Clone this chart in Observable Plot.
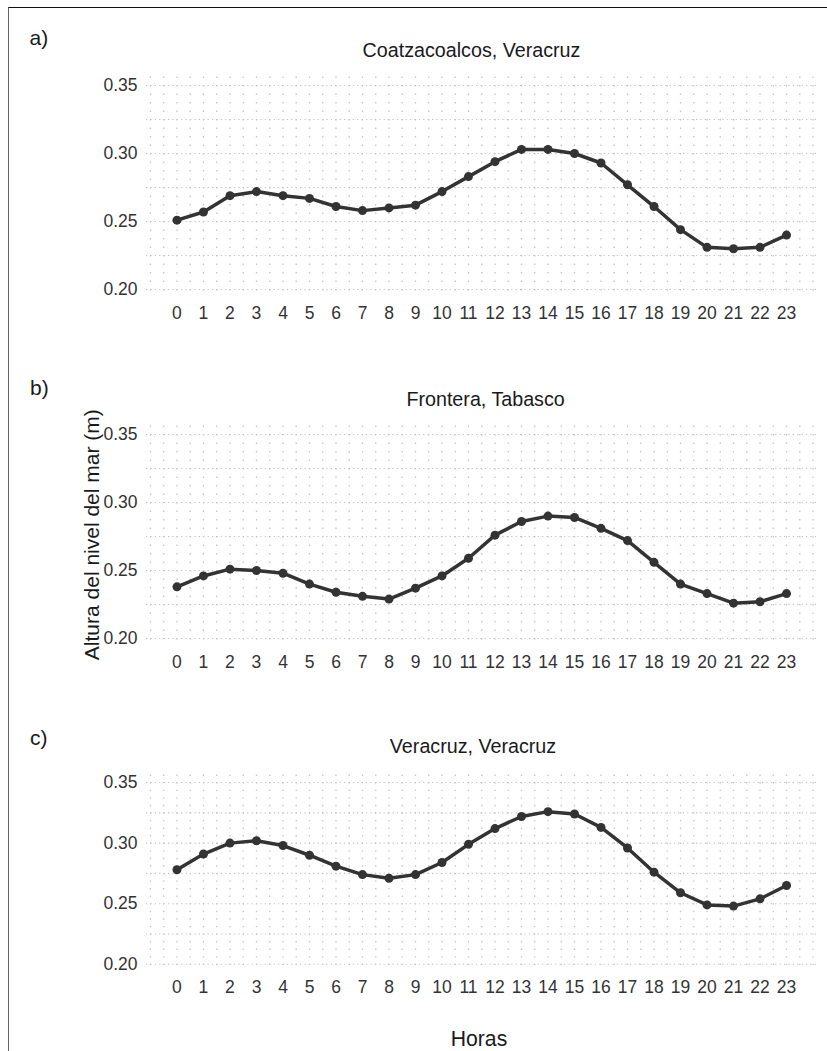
<!DOCTYPE html>
<html>
<head>
<meta charset="utf-8">
<script src="https://cdn.jsdelivr.net/npm/d3@7"></script>
<script src="https://cdn.jsdelivr.net/npm/@observablehq/plot@0.6"></script>
<style>
  body { margin: 0; background: #fff; }
  #fig { position: relative; width: 827px; height: 1051px; overflow: hidden; background: #fff;
         font-family: "Liberation Sans", Arial, Helvetica, sans-serif; }
  #frame { position: absolute; left: 8px; top: 7px; width: 1000px; height: 1200px;
           border-left: 1px solid #666; border-top: 1px solid #111; }
  .panel { position: absolute; left: 0; }
  #labels { position: absolute; left: 0; top: 0; pointer-events: none; }
</style>
</head>
<body>
<div id="fig">
  <div id="frame"></div>
</div>
<script>
// Hours of the day (x axis categories and tick labels)
const hours = [0,1,2,3,4,5,6,7,8,9,10,11,12,13,14,15,16,17,18,19,20,21,22,23];

// Mean hourly sea level (m) at each tide station
const coatzacoalcos = [0.251,0.257,0.269,0.272,0.269,0.267,0.261,0.258,0.260,0.262,0.272,0.283,0.294,0.303,0.303,0.300,0.293,0.277,0.261,0.244,0.231,0.230,0.231,0.240];
const frontera      = [0.238,0.246,0.251,0.250,0.248,0.240,0.234,0.231,0.229,0.237,0.246,0.259,0.276,0.286,0.290,0.289,0.281,0.272,0.256,0.240,0.233,0.226,0.227,0.233];
const veracruz      = [0.278,0.291,0.300,0.302,0.298,0.290,0.281,0.274,0.271,0.274,0.284,0.299,0.312,0.322,0.326,0.324,0.313,0.296,0.276,0.259,0.249,0.248,0.254,0.265];

// Panel titles, tags and y-axis ticks
const stations = ["Coatzacoalcos, Veracruz", "Frontera, Tabasco", "Veracruz, Veracruz"];
const tags = ["a)", "b)", "c)"];
const yTicks = [0.20, 0.25, 0.30, 0.35];

const fig = document.getElementById("fig");
const FONT = '"Liberation Sans", Arial, Helvetica, sans-serif';
const W = 827, ML = 146, MR = 10.5, MT = 6.5, MB = 30;
const yDomain = [0.19375, 0.35625];
const xDomain = [-1.15, 24.15];

function panel(values, top, innerH) {
  const rows = hours.map((h, i) => ({hour: h, value: values[i]}));
  const pxPerUnit = innerH / (yDomain[1] - yDomain[0]);
  const period = 0.00625 * pxPerUnit;
  const chart = Plot.plot({
    width: W,
    height: MT + innerH + MB,
    marginLeft: ML, marginRight: MR, marginTop: MT, marginBottom: MB,
    style: {fontFamily: FONT, fontSize: "17.5px", color: "#333", background: "transparent", overflow: "visible"},
    x: {domain: xDomain, label: null},
    y: {domain: yDomain, label: null},
    marks: [
      // dotted vertical grid every half hour
      Plot.ruleX(d3.range(-1, 24.01, 0.5), {stroke: "#c4c4c4", strokeWidth: 1.3,
        strokeDasharray: `1.4,${(period - 1.4).toFixed(3)}`}),
      // dotted horizontal grid every 0.025 m
      Plot.ruleY(d3.range(0.2, 0.3501, 0.025), {stroke: "#c4c4c4", strokeWidth: 1.1,
        strokeDasharray: "1.2,3.2"}),
      Plot.axisX(hours, {tickSize: 0, tickPadding: 9, tickFormat: d => String(d)}),
      Plot.axisY(yTicks, {tickSize: 0, tickPadding: 9, tickFormat: d3.format(".2f")}),
      Plot.line(rows, {x: "hour", y: "value", stroke: "#333", strokeWidth: 3.5}),
      Plot.dot(rows, {x: "hour", y: "value", r: 4.5, fill: "#333", stroke: "none"})
    ]
  });
  chart.classList.add("panel");
  chart.style.top = (top - MT) + "px";
  fig.appendChild(chart);
}

panel(coatzacoalcos, 76.5, 221);
panel(frontera, 425.5, 221);
panel(veracruz, 774.1, 196.8);

// Titles, tags and axis titles
const svg = d3.select(fig).append("svg").attr("id", "labels")
  .attr("width", W).attr("height", 1051)
  .attr("font-family", FONT).attr("fill", "#1a1a1a");

const tagPos = [[29.5, 45], [30, 395], [30, 745]];
const titlePos = [[471.5, 57.2], [485.6, 406], [473, 753.3]];
tags.forEach((t, i) => {
  svg.append("text").attr("x", tagPos[i][0]).attr("y", tagPos[i][1])
    .attr("font-size", 21).text(t);
});
stations.forEach((t, i) => {
  svg.append("text").attr("x", titlePos[i][0]).attr("y", titlePos[i][1])
    .attr("text-anchor", "middle").attr("font-size", 19.7).text(t);
});
svg.append("text").attr("x", 479).attr("y", 1046)
  .attr("text-anchor", "middle").attr("font-size", 21.2).text("Horas");
svg.append("text").attr("transform", "translate(99,534.7) rotate(-90)")
  .attr("text-anchor", "middle").attr("font-size", 21).text("Altura del nivel del mar (m)");
</script>
</body>
</html>
